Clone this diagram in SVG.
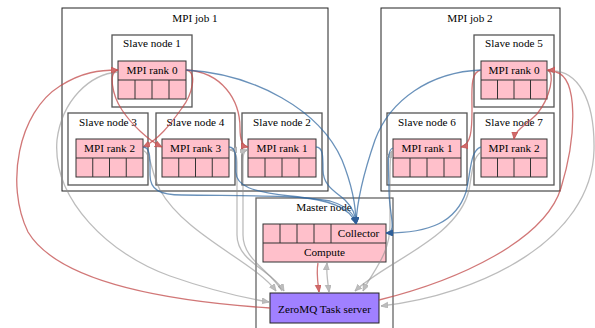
<svg xmlns="http://www.w3.org/2000/svg" width="595" height="328" viewBox="0 0 595 328">
<style>
text{font-family:'Liberation Serif','DejaVu Serif',serif;font-size:11.2px;fill:#000;text-anchor:middle}
.job{fill:#fff;stroke:#222;stroke-width:1}
.slave{fill:#fff;stroke:#555;stroke-width:1.3}
.master{fill:none;stroke:#666;stroke-width:1.3}
.rec{fill:#ffc0cb;stroke:#333;stroke-width:1}
.div{stroke:#333;stroke-width:1;fill:none}
.zmq{fill:#a080ff;stroke:#222;stroke-width:1}
.e{fill:none;stroke-width:1.3}
.red{stroke:#c24a4a;stroke-opacity:0.75}
.blue{stroke:#2f66a0;stroke-opacity:0.72}
.gray{stroke:#8f8f8f;stroke-opacity:0.6}
</style>
<defs>
<marker id="ar" markerUnits="userSpaceOnUse" markerWidth="8" markerHeight="7" refX="7" refY="3" orient="auto-start-reverse"><path d="M0,0 L7,3 L0,6 z" fill="#d06a6a" stroke="#c24a4a" stroke-width="0.6"/></marker>
<marker id="ab" markerUnits="userSpaceOnUse" markerWidth="8" markerHeight="7" refX="7" refY="3" orient="auto-start-reverse"><path d="M0,0 L7,3 L0,6 z" fill="#2f5f99" stroke="#2f5f99" stroke-width="0.6"/></marker>
<marker id="ag" markerUnits="userSpaceOnUse" markerWidth="8" markerHeight="7" refX="7" refY="3" orient="auto-start-reverse"><path d="M0,0 L7,3 L0,6 z" fill="#bdbdbd" stroke="#a8a8a8" stroke-width="0.6"/></marker>
</defs>
<g font-family="Liberation Serif, DejaVu Serif, serif">
<g id="job1">
<rect class="job" x="62" y="8" width="266" height="183"/>
<text x="195" y="22">MPI job 1</text>
</g>
<g id="job2">
<rect class="job" x="381" y="8" width="179" height="183"/>
<text x="470" y="22">MPI job 2</text>
</g>
<g id="master">
<rect class="master" x="256" y="198" width="137" height="140"/>
<text x="324" y="211">Master node</text>
</g>

<g id="slave1">
<rect class="slave" x="112" y="35" width="80" height="72"/>
<text x="152" y="47">Slave node 1</text>
<rect class="rec" x="118" y="61" width="68" height="38"/>
<path class="div" d="M118,80 H186 M135,80 V99 M152,80 V99 M169,80 V99"/>
<text x="152" y="74">MPI rank 0</text>
</g>
<g id="slave3">
<rect class="slave" x="68" y="113" width="80" height="72"/>
<text x="108" y="126">Slave node 3</text>
<rect class="rec" x="76" y="139" width="67" height="38"/>
<path class="div" d="M76,158 H143 M92.75,158 V177 M109.5,158 V177 M126.25,158 V177"/>
<text x="109.5" y="152">MPI rank 2</text>
</g>
<g id="slave4">
<rect class="slave" x="156" y="113" width="79" height="72"/>
<text x="195.5" y="126">Slave node 4</text>
<rect class="rec" x="162" y="139" width="67" height="38"/>
<path class="div" d="M162,158 H229 M178.75,158 V177 M195.5,158 V177 M212.25,158 V177"/>
<text x="195.5" y="152">MPI rank 3</text>
</g>
<g id="slave2">
<rect class="slave" x="242" y="113" width="80" height="72"/>
<text x="282" y="126">Slave node 2</text>
<rect class="rec" x="248" y="139" width="68" height="38"/>
<path class="div" d="M248,158 H316 M265,158 V177 M282,158 V177 M299,158 V177"/>
<text x="282" y="152">MPI rank 1</text>
</g>
<g id="slave5">
<rect class="slave" x="474" y="35" width="80" height="72"/>
<text x="514" y="47">Slave node 5</text>
<rect class="rec" x="481" y="61" width="66" height="38"/>
<path class="div" d="M481,80 H547 M497.5,80 V99 M514,80 V99 M530.5,80 V99"/>
<text x="514" y="74">MPI rank 0</text>
</g>
<g id="slave6">
<rect class="slave" x="387" y="113" width="80" height="72"/>
<text x="427" y="126">Slave node 6</text>
<rect class="rec" x="393" y="139" width="68" height="38"/>
<path class="div" d="M393,158 H461 M410,158 V177 M427,158 V177 M444,158 V177"/>
<text x="427" y="152">MPI rank 1</text>
</g>
<g id="slave7">
<rect class="slave" x="474" y="113" width="80" height="72"/>
<text x="514" y="126">Slave node 7</text>
<rect class="rec" x="481" y="139" width="66" height="38"/>
<path class="div" d="M481,158 H547 M497.5,158 V177 M514,158 V177 M530.5,158 V177"/>
<text x="514" y="152">MPI rank 2</text>
</g>

<g id="collector">
<rect class="rec" x="263" y="224" width="123" height="38"/>
<path class="div" d="M263,243 H386 M280,224 V243 M297,224 V243 M314,224 V243 M331,224 V243"/>
<text x="358.5" y="237">Collector</text>
<text x="324.5" y="256">Compute</text>
</g>
<g id="zeromq">
<rect class="zmq" x="270" y="293" width="109" height="30"/>
<text x="324.5" y="313">ZeroMQ Task server</text>
</g>
</g>
<g id="edges">
<path class="e gray" marker-end="url(#ag)" d="M118,72 C90,74 62,100 57,140 C52,200 110,255 170,276 C210,290 245,298 269,302"/>
<path class="e gray" marker-end="url(#ag)" d="M143,150 C152,155 150,170 160,190 C185,235 255,262 276,291"/>
<path class="e gray" marker-start="url(#ag)" marker-end="url(#ag)" d="M230,150 C236,150 237,156 237,165 L237,235 C237,262 272,270 284,291"/>
<path class="e gray" marker-start="url(#ag)" d="M247,150 C243,151 243,156 243,165 L243,235 C243,260 270,270 282,291"/>
<path class="e gray" marker-start="url(#ag)" marker-end="url(#ag)" d="M327,263 C326,273 328,283 329,292"/>
<path class="e gray" marker-start="url(#ag)" marker-end="url(#ag)" d="M392,151 C390,156 390,165 390,175 L390,225 C390,255 372,272 363,291"/>
<path class="e gray" marker-end="url(#ag)" d="M481,152 C472,158 472,175 469,190 C458,238 385,262 355,291"/>
<path class="e gray" marker-start="url(#ag)" marker-end="url(#ag)" d="M548,71 C578,68 595,100 594,150 C592,240 480,295 381,306"/>
<path class="e red" marker-end="url(#ar)" d="M186,70 C198,72 192,95 182,108 C170,125 158,140 143,147"/>
<path class="e red" marker-end="url(#ar)" d="M118,70 C108,72 112,95 122,110 C132,125 148,140 162,147"/>
<path class="e red" marker-end="url(#ar)" d="M186,70 C222,72 240,100 240,128 C240,140 242,146 248,147"/>
<path class="e red" marker-end="url(#ar)" d="M270,308 C180,302 60,285 28,232 C5,185 18,112 60,86 C82,72 100,70 118,70"/>
<path class="e red" marker-end="url(#ar)" d="M318,263 C316,273 318,283 319,292"/>
<path class="e red" marker-end="url(#ar)" d="M481,70 C470,72 472,90 472,110 C472,130 471,145 461,147"/>
<path class="e red" marker-end="url(#ar)" d="M547,70 C556,72 550,98 537,114 C525,126 515,130 514,139"/>
<path class="e red" marker-end="url(#ar)" d="M379,300 C460,280 545,240 561,188 C577,135 578,78 556,72 C553,71 550,70 548,70"/>
<path class="e blue" marker-end="url(#ab)" d="M186,70 C255,74 320,110 342,160 C352,185 356,205 356,224"/>
<path class="e blue" marker-end="url(#ab)" d="M481,70 C430,72 390,100 375,140 C364,172 357,200 356,224"/>
<path class="e blue" marker-end="url(#ab)" d="M143,147 C151,147 150,160 150,175 C150,190 160,195 182,195 C245,196 300,195 330,201 C346,206 355,213 356,224"/>
<path class="e blue" marker-end="url(#ab)" d="M229,147 C237,147 236,160 236,172 C236,186 252,192 290,196 C330,200 350,207 356,224"/>
<path class="e blue" marker-end="url(#ab)" d="M316,147 C323,147 323,156 323,170 C323,186 336,192 345,200 C352,207 356,215 356,224"/>
<path class="e blue" marker-end="url(#ab)" d="M393,148 C386,150 389,170 389,190 C389,215 398,233 386,233"/>
<path class="e blue" marker-end="url(#ab)" d="M481,147 C470,150 471,172 466,192 C456,222 430,233 386,233"/>
</g>
</svg>
